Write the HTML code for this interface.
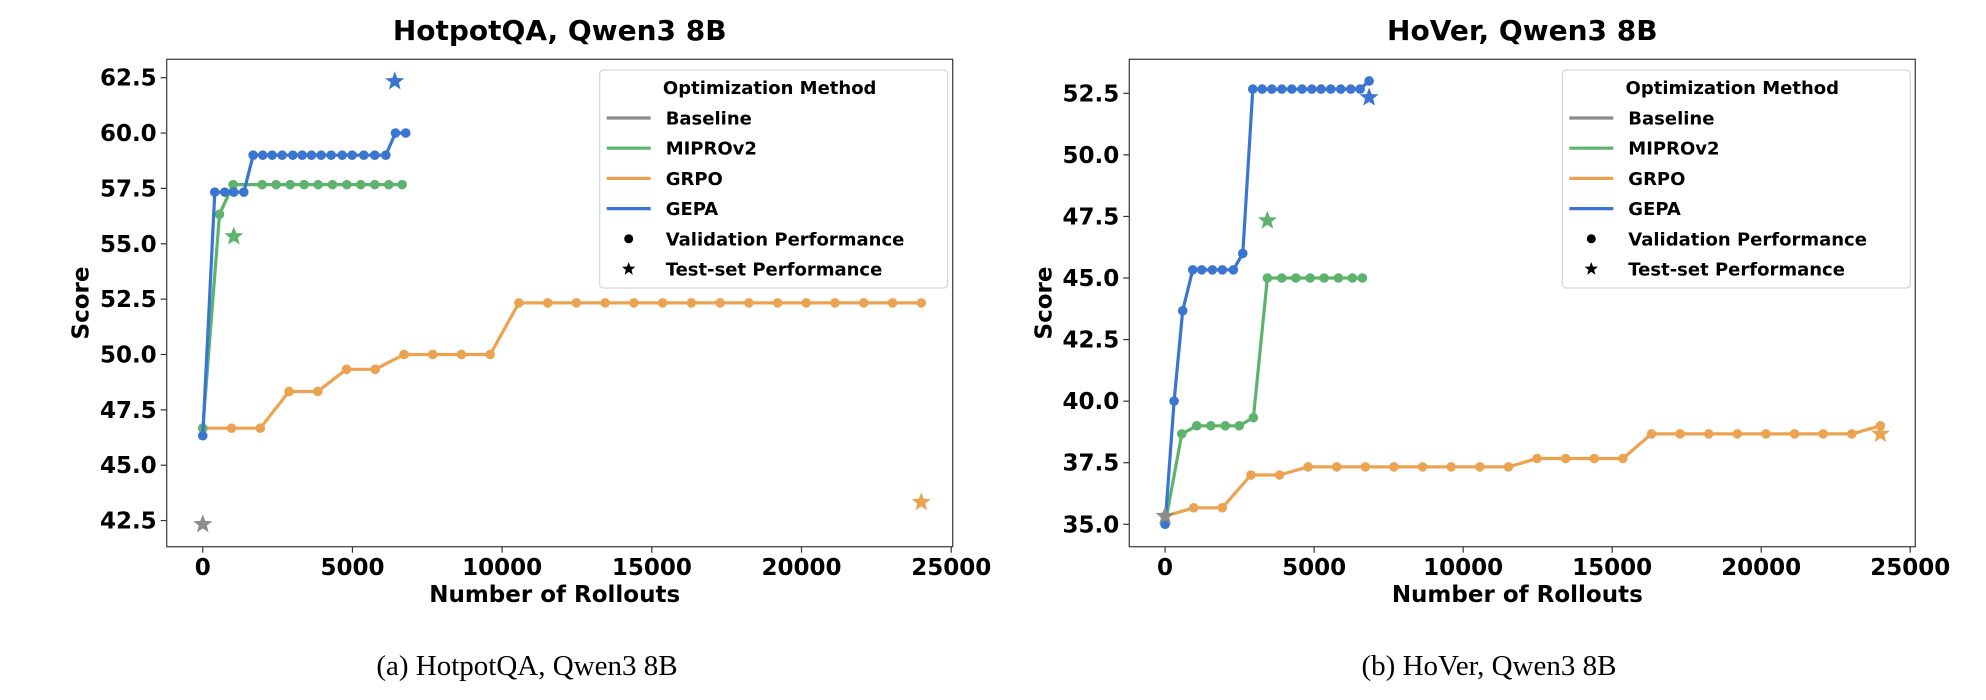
<!DOCTYPE html>
<html><head><meta charset="utf-8"><style>
html,body{margin:0;padding:0;background:#fff;}
svg{display:block;font-family:"DejaVu Sans","Liberation Sans",sans-serif;}
</style></head><body>
<svg id="fig" width="1986" height="700" viewBox="0 0 1986 700" xmlns="http://www.w3.org/2000/svg">
<text x="527" y="675" font-family="Liberation Serif, serif" font-size="29" text-anchor="middle">(a) HotpotQA, Qwen3 8B</text>
<text x="1489" y="675" font-family="Liberation Serif, serif" font-size="29" text-anchor="middle">(b) HoVer, Qwen3 8B</text>
</svg>
<script>
// ---- HotpotQA data ----
const hqGepaX=[0,401,735,1036,1370,1683,2004,2318,2652,3006,3320,3631,3955,4289,4656,4990,5378,5745,6113,6436,6780];
const hqGepaY=[46.33,57.33,57.33,57.33,57.33,59,59,59,59,59,59,59,59,59,59,59,59,59,59,60,60];
const hqMiproX=[0,558,1014,1983,2450,2918,3386,3853,4332,4810,5277,5745,6213,6660];
const hqMiproY=[46.67,56.33,57.67,57.67,57.67,57.67,57.67,57.67,57.67,57.67,57.67,57.67,57.67,57.67];
const hqGrpoY=[46.67,46.67,46.67,48.33,48.33,49.33,49.33,50,50,50,50,52.33,52.33,52.33,52.33,52.33,52.33,52.33,52.33,52.33,52.33,52.33,52.33,52.33,52.33,52.33];
const hqStars=[["baseline",0,42.33],["mipro",1036,55.33],["grpo",24000,43.33],["gepa",6413,62.33]];
const hqYTicks=[42.5,45.0,47.5,50.0,52.5,55.0,57.5,60.0,62.5];
// ---- HoVer data ----
const hvGepaX=[0,302,593,928,1230,1587,1923,2292,2607,2943,3258,3581,3917,4252,4597,4923,5235,5560,5896,6232,6544,6846];
const hvGepaY=[35.0,40.0,43.67,45.33,45.33,45.33,45.33,45.33,46.0,52.67,52.67,52.67,52.67,52.67,52.67,52.67,52.67,52.67,52.67,52.67,52.67,53.0];
const hvMiproX=[0,560,1063,1533,2020,2490,2963,3433,3916,4386,4866,5336,5815,6285,6620];
const hvMiproY=[35.0,38.67,39.0,39.0,39.0,39.0,39.33,45,45,45,45,45,45,45,45];
const hvGrpoY=[35.33,35.67,35.67,37.0,37.0,37.33,37.33,37.33,37.33,37.33,37.33,37.33,37.33,37.67,37.67,37.67,37.67,38.67,38.67,38.67,38.67,38.67,38.67,38.67,38.67,39.0];
const hvStars=[["baseline",0,35.33],["mipro",3433,47.33],["grpo",24000,38.67],["gepa",6846,52.33]];
const hvYTicks=[35.0,37.5,40.0,42.5,45.0,47.5,50.0,52.5];
const grpoX=hqGrpoY.map((_,i)=>i*960);
const xTicks=[0,5000,10000,15000,20000,25000];

const COL={baseline:"#8c8c8c",mipro:"#5db26e",grpo:"#eba351",gepa:"#3a75d1"};
const NS="http://www.w3.org/2000/svg";
const svg=document.getElementById('fig');
function mk(tag,attrs,parent){const e=document.createElementNS(NS,tag);for(const k in attrs)e.setAttribute(k,attrs[k]);(parent||svg).appendChild(e);return e;}
function starPath(cx,cy,R){let r=R*0.42,d="";for(let i=0;i<10;i++){const a=-Math.PI/2+i*Math.PI/5;const rr=i%2?r:R;d+=(i?"L":"M")+(cx+rr*Math.cos(a)).toFixed(1)+" "+(cy+rr*Math.sin(a)).toFixed(1);}return d+"Z";}

function chart(o){
  const L=o.left,T=59.3,W=786,B=546.7;
  const sx=v=>L+(v-o.x0)/(o.x1-o.x0)*W;
  const sy=v=>B-(v-o.y0)/(o.y1-o.y0)*(B-T);
  const g=mk('g',{});
  
  
  const t=mk('text',{x:L+W/2,y:40,'font-size':28,'font-weight':'bold','text-anchor':'middle'},g);
  t.textContent=o.title;
  
  
  o.yticks.forEach(v=>{
    const y=sy(v);
    const tk=mk('line',{x1:L-6,x2:L,y1:y,y2:y,stroke:'#333','stroke-width':1.2},g);
    
    
    const lb=mk('text',{x:L-10,y:y+8,'font-size':23,'font-weight':'bold','text-anchor':'end'},g);
    lb.textContent=v.toFixed(1);
    
    
  });
  xTicks.forEach(v=>{
    const x=sx(v);
    const tk=mk('line',{x1:x,x2:x,y1:B,y2:B+6,stroke:'#333','stroke-width':1.2},g);
    
    
    const lb=mk('text',{x:x,y:575,'font-size':23,'font-weight':'bold','text-anchor':'middle'},g);
    lb.textContent=String(v);
    
    
  });
  const xl=mk('text',{x:L+W/2-5,y:602,'font-size':23,'font-weight':'bold','text-anchor':'middle'},g);
  xl.textContent='Number of Rollouts';
  
  
  const yl=mk('text',{x:0,y:0,'font-size':23,'font-weight':'bold','text-anchor':'middle',transform:`translate(${L-78},${(T+B)/2}) rotate(-90)`},g);
  yl.textContent='Score';
  
  
  function series(name,xs,ys){
    const sg=mk('g',{},g);
    
    
    const pts=xs.map((x,i)=>sx(x).toFixed(1)+','+sy(ys[i]).toFixed(1)).join(' ');
    const pl=mk('polyline',{points:pts,fill:'none',stroke:COL[name],'stroke-width':3.2,'stroke-linejoin':'round'},sg);
    
    
    xs.forEach((x,i)=>{
      const c=mk('circle',{cx:sx(x),cy:sy(ys[i]),r:4.8,fill:COL[name]},sg);
      
      
    });
  }
  series('grpo',grpoX,o.grpoY);
  series('mipro',o.miproX,o.miproY);
  series('gepa',o.gepaX,o.gepaY);
  o.stars.forEach(s=>{
    const p=mk('path',{d:starPath(sx(s[1]),sy(s[2]),10),fill:COL[s[0]]},g);
    
    
  });
  const fr=mk('rect',{x:L,y:T,width:W,height:B-T,fill:'none',stroke:'#444','stroke-width':1.3},g);
  
  
  // legend
  const lx=L+433,ly=70;
  const lg=mk('g',{},g);
  
  
  mk('rect',{x:lx,y:ly,width:348,height:218,rx:4,fill:'#fff','fill-opacity':0.85,stroke:'#d5d5d5','stroke-width':1.2},lg);
  const lt=mk('text',{x:lx+170,y:ly+24,'font-size':18,'font-weight':'bold','text-anchor':'middle'},lg);
  lt.textContent='Optimization Method';
  const rows=[['baseline','Baseline'],['mipro','MIPROv2'],['grpo','GRPO'],['gepa','GEPA'],['dot','Validation Performance'],['star','Test-set Performance']];
  rows.forEach((r,i)=>{
    const cy=ly+48+i*30.2;
    const eg=mk('g',{},lg);
    
    
    if(r[0]==='dot') mk('circle',{cx:lx+29,cy:cy,r:4.5,fill:'#000'},eg);
    else if(r[0]==='star') mk('path',{d:starPath(lx+29,cy,7),fill:'#000'},eg);
    else mk('line',{x1:lx+7,x2:lx+51,y1:cy,y2:cy,stroke:COL[r[0]],'stroke-width':3.2},eg);
    const tx=mk('text',{x:lx+66,y:cy+6.5,'font-size':18,'font-weight':'bold'},eg);
    tx.textContent=r[1];
  });
}
chart({id:'hotpotqa',title:'HotpotQA, Qwen3 8B',left:166.7,x0:-1205,x1:25050,y0:41.32,y1:63.33,yticks:hqYTicks,gepaX:hqGepaX,gepaY:hqGepaY,miproX:hqMiproX,miproY:hqMiproY,grpoY:hqGrpoY,stars:hqStars});
chart({id:'hover',title:'HoVer, Qwen3 8B',left:1129.3,x0:-1200,x1:25170,y0:34.09,y1:53.88,yticks:hvYTicks,gepaX:hvGepaX,gepaY:hvGepaY,miproX:hvMiproX,miproY:hvMiproY,grpoY:hvGrpoY,stars:hvStars});
</script>
</body></html>
